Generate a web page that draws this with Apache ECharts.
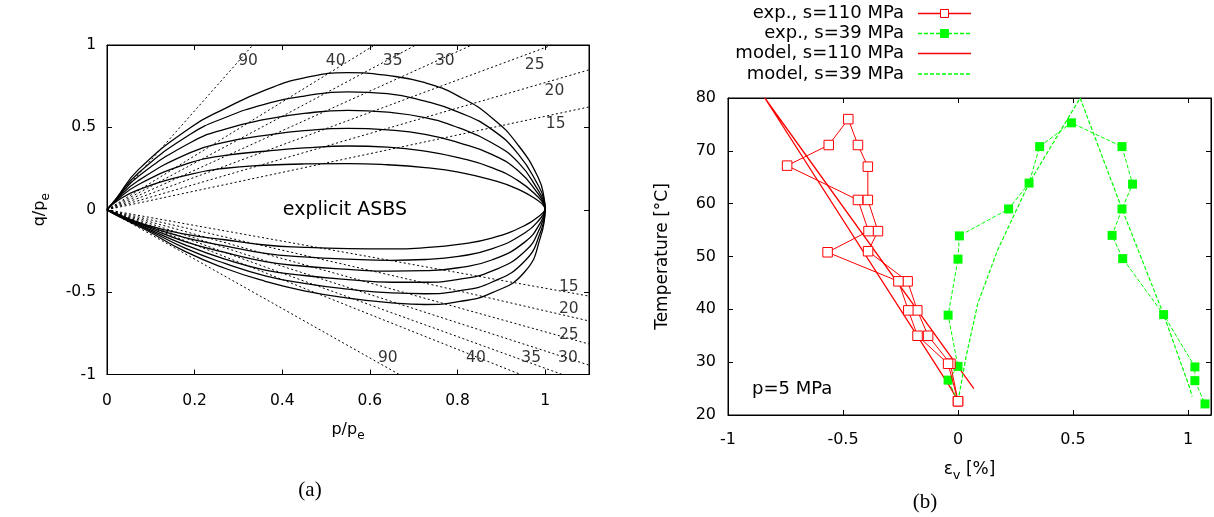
<!DOCTYPE html>
<html><head><meta charset="utf-8">
<script src="https://cdn.jsdelivr.net/npm/echarts@6/dist/echarts.min.js"></script>
<style>html,body{margin:0;padding:0;background:#fff}#c{width:1214px;height:517px}</style>
</head><body><div id="c"></div>
<script>
// ================= panel (a) data =================
// upper (compression) ASBS curves
const pUpper = [0, 0.02, 0.071, 0.19, 0.27, 0.361, 0.45, 0.55, 0.64, 0.726, 0.802, 0.878, 0.939, 0.985, 0.997, 1];
const qUpper1 = [0, 0.065, 0.242, 0.498, 0.615, 0.726, 0.800, 0.832, 0.815, 0.771, 0.690, 0.559, 0.390, 0.190, 0.080, 0];
const qUpper2 = [0, 0.063, 0.222, 0.458, 0.560, 0.641, 0.690, 0.716, 0.705, 0.659, 0.593, 0.488, 0.336, 0.144, 0.065, 0];
const qUpper3 = [0, 0.060, 0.202, 0.407, 0.490, 0.548, 0.585, 0.603, 0.592, 0.559, 0.498, 0.407, 0.286, 0.114, 0.050, 0];
const qUpper4 = [0, 0.057, 0.176, 0.347, 0.410, 0.451, 0.480, 0.494, 0.485, 0.458, 0.407, 0.336, 0.235, 0.094, 0.040, 0];
const qUpper5 = [0, 0.053, 0.152, 0.286, 0.330, 0.355, 0.375, 0.387, 0.380, 0.356, 0.316, 0.256, 0.175, 0.074, 0.030, 0];
const qUpper6 = [0, 0.048, 0.121, 0.215, 0.252, 0.270, 0.278, 0.280, 0.273, 0.256, 0.229, 0.181, 0.124, 0.053, 0.022, 0];
// lower (extension) ASBS curves
const pLower = [0, 0.02, 0.087, 0.178, 0.269, 0.361, 0.45, 0.55, 0.65, 0.726, 0.802, 0.878, 0.954, 0.99, 1];
const qLower1 = [0, -0.022, -0.090, -0.148, -0.182, -0.214, -0.228, -0.236, -0.238, -0.230, -0.210, -0.172, -0.095, -0.030, 0];
const qLower2 = [0, -0.024, -0.095, -0.169, -0.219, -0.265, -0.286, -0.300, -0.307, -0.302, -0.283, -0.238, -0.140, -0.050, 0];
const qLower3 = [0, -0.026, -0.100, -0.193, -0.259, -0.315, -0.343, -0.362, -0.373, -0.370, -0.352, -0.305, -0.195, -0.075, 0];
const qLower4 = [0, -0.028, -0.107, -0.213, -0.300, -0.366, -0.399, -0.424, -0.440, -0.440, -0.422, -0.373, -0.252, -0.100, 0];
const qLower5 = [0, -0.030, -0.113, -0.233, -0.326, -0.401, -0.447, -0.482, -0.505, -0.510, -0.492, -0.440, -0.310, -0.130, 0];
const qLower6 = [0, -0.032, -0.120, -0.253, -0.355, -0.434, -0.492, -0.536, -0.565, -0.575, -0.558, -0.505, -0.375, -0.160, 0];
// critical state lines (dotted) from the origin: end points where they leave the plot
const phiNames = ['90', '40', '35', '30', '25', '20', '15'];
const cslCompEnd = [[0.333, 1], [0.611, 1], [0.705, 1], [0.833, 1], [1.016, 1], [1.1, 0.849], [1.1, 0.624]];
const cslExtEnd = [[0.667, -1], [0.944, -1], [1.039, -1], [1.1, -0.943], [1.1, -0.815], [1.1, -0.675], [1.1, -0.524]];
// label anchors of the friction angles (data coordinates)
const phiLabelUpper = [[0.322, 0.905], [0.522, 0.905], [0.652, 0.905], [0.771, 0.905], [0.976, 0.88], [1.021, 0.72], [1.024, 0.52]];
const phiLabelLower = [[0.641, -0.9], [0.842, -0.9], [0.968, -0.9], [1.052, -0.9], [1.054, -0.76], [1.054, -0.604], [1.054, -0.468]];

// ================= panel (b) data =================
const exp110Eps = [0, -0.033, -0.130, -0.177, -0.219, -0.391, -0.348, -0.392, -0.392, -0.435, -0.477, -0.562, -0.743, -0.435, -0.389, -0.567, -0.259, -0.216, -0.176, -0.043, 0];
const exp110T   = [22.6, 29.7, 35.0, 39.8, 45.3, 51.0, 54.8, 60.7, 67.0, 71.1, 76.0, 71.1, 67.2, 60.7, 54.8, 50.8, 45.3, 39.8, 35.0, 29.7, 22.6];
const exp39Eps = [0, -0.043, 0, -0.043, 0, 0.006, 0.220, 0.309, 0.355, 0.493, 0.713, 0.759, 0.713, 0.670, 0.716, 0.894, 1.030, 1.030, 1.074];
const exp39T   = [22.6, 26.6, 29.2, 38.9, 49.5, 53.9, 59.0, 63.9, 70.8, 75.3, 70.8, 63.7, 59.0, 54.0, 49.6, 39.0, 29.1, 26.5, 22.1];
const model110Eps = [0, -0.030, -0.840, 0.069];
const model110T   = [22.6, 25.0, 80.0, 25.0];
const model39Eps = [0, 0.035, 0.086, 0.172, 0.309, 0.531, 0.713, 0.894, 1.006, 1.018];
const model39T   = [22.6, 31.0, 41.1, 51.2, 63.9, 80.0, 59.0, 39.0, 25.3, 23.5];
const legendNames = ['exp., s=110 MPa', 'exp., s=39 MPa', 'model, s=110 MPa', 'model, s=39 MPa'];

// ================= chart =================
const FONT = 'DejaVu Sans';
const RED = '#ff0000', GREEN = '#00ff00';
const pts = (xs, ys) => xs.map((x, i) => [x, ys[i]]);
const chart = echarts.init(document.getElementById('c'), null, {renderer: 'canvas'});

const series = [];
[qUpper1, qUpper2, qUpper3, qUpper4, qUpper5, qUpper6, qLower1, qLower2, qLower3, qLower4, qLower5, qLower6]
  .forEach((q, k) => series.push({
    type: 'line', xAxisIndex: 0, yAxisIndex: 0, data: pts(k < 6 ? pUpper : pLower, q), smooth: 0.5,
    symbol: 'none', lineStyle: {color: '#000', width: 1.3}, silent: true, z: 3
  }));
cslCompEnd.concat(cslExtEnd).forEach(e => series.push({
  type: 'line', xAxisIndex: 0, yAxisIndex: 0, data: [[0, 0], e], symbol: 'none',
  lineStyle: {color: '#000', width: 1, type: [2, 2.5]}, silent: true, z: 2
}));
series.push({
  type: 'scatter', xAxisIndex: 0, yAxisIndex: 0, symbolSize: 0, silent: true, z: 5,
  data: phiLabelUpper.map((p, i) => ({name: phiNames[i], value: p}))
    .concat(phiLabelLower.map((p, i) => ({name: phiNames[i], value: p}))),
  label: {show: true, position: 'inside', formatter: '{b}', color: '#000', fontFamily: FONT, fontSize: 15.5}
});
// panel (b)
series.push({
  name: legendNames[2], type: 'line', xAxisIndex: 2, yAxisIndex: 2, data: pts(model110Eps, model110T),
  symbol: 'none', lineStyle: {color: RED, width: 1.3}, silent: true, z: 3
});
series.push({
  name: legendNames[3], type: 'line', xAxisIndex: 2, yAxisIndex: 2, data: pts(model39Eps, model39T),
  symbol: 'none', lineStyle: {color: GREEN, width: 1.2, type: [4, 2]}, silent: true, z: 3
});
series.push({
  name: legendNames[1], type: 'line', xAxisIndex: 2, yAxisIndex: 2, data: pts(exp39Eps, exp39T),
  symbol: 'rect', symbolSize: 9, showAllSymbol: true, itemStyle: {color: GREEN},
  lineStyle: {color: GREEN, width: 1, type: [4, 2]}, silent: true, z: 4
});
series.push({
  name: legendNames[0], type: 'line', xAxisIndex: 2, yAxisIndex: 2, data: pts(exp110Eps, exp110T),
  symbol: 'rect', symbolSize: 9.5, showAllSymbol: true, itemStyle: {color: '#fff', borderColor: RED, borderWidth: 1},
  lineStyle: {color: RED, width: 1}, silent: true, z: 5
});

const tick = {show: true, inside: true, length: 5, lineStyle: {color: '#000', width: 1}};
const line = {show: true, onZero: false, lineStyle: {color: '#000', width: 1}};
const lab = (size, margin, hideAbove) => ({
  color: '#000', fontFamily: FONT, fontSize: size, margin: margin,
  formatter: v => (hideAbove !== undefined && v > hideAbove) ? '' : String(+(+v).toFixed(2))
});
const sub = (size) => ({
  color: '#000', fontFamily: FONT, fontSize: size,
  rich: {
    n: {fontFamily: FONT, fontSize: size, color: '#000', lineHeight: size + 8},
    s: {fontFamily: FONT, fontSize: size - 4, color: '#000', verticalAlign: 'bottom', lineHeight: size - 3}
  }
});

const legendGraphics = [];
const legendRows = [13.5, 33.5, 53.5, 74];
const legendStyles = [
  {color: RED, dash: [], mark: 'empty'},
  {color: GREEN, dash: [4, 2], mark: 'full'},
  {color: RED, dash: [], mark: null},
  {color: GREEN, dash: [4, 2], mark: null}
];
legendNames.forEach((n, i) => {
  const y = legendRows[i], s = legendStyles[i];
  legendGraphics.push({type: 'text', x: 904, y: y, style: {text: n, fill: '#000',
    font: '18px "DejaVu Sans"', textAlign: 'right', textVerticalAlign: 'middle'}});
  legendGraphics.push({type: 'line', shape: {x1: 918, y1: y, x2: 971, y2: y},
    style: {stroke: s.color, lineWidth: 1.4, lineDash: s.dash}});
  if (s.mark) legendGraphics.push({type: 'rect', shape: {x: 940.5, y: y - 4, width: 8, height: 8},
    style: {fill: s.mark === 'full' ? s.color : '#fff', stroke: s.color, lineWidth: 1}});
});

chart.setOption({
  animation: false,
  backgroundColor: '#fff',
  grid: [
    {left: 107, top: 45, width: 482, height: 329.5, show: true, borderColor: '#000', borderWidth: 1},
    {left: 728, top: 98, width: 487, height: 317, show: true, borderColor: '#000', borderWidth: 1}
  ],
  xAxis: [
    {gridIndex: 0, type: 'value', min: 0, max: 1.1, interval: 0.2, position: 'bottom',
      axisLine: line, axisTick: tick, splitLine: {show: false}, axisLabel: lab(15.5, 18, 1.05),
      name: '{n|p/p}{s|e}', nameLocation: 'middle', nameGap: 43, nameTextStyle: sub(16)},
    {gridIndex: 0, type: 'value', min: 0, max: 1.1, interval: 0.2, position: 'top',
      axisLine: line, axisTick: tick, splitLine: {show: false}, axisLabel: {show: false}},
    {gridIndex: 1, type: 'value', min: -1, max: 1.1, interval: 0.5, position: 'bottom',
      axisLine: line, axisTick: tick, splitLine: {show: false}, axisLabel: lab(16, 17, 1.05),
      name: '{n|ε}{s|v}{n| [%]}', nameLocation: 'middle', nameGap: 42, nameTextStyle: sub(17)},
    {gridIndex: 1, type: 'value', min: -1, max: 1.1, interval: 0.5, position: 'top',
      axisLine: line, axisTick: tick, splitLine: {show: false}, axisLabel: {show: false}}
  ],
  yAxis: [
    {gridIndex: 0, type: 'value', min: -1, max: 1, interval: 0.5, position: 'left',
      axisLine: line, axisTick: tick, splitLine: {show: false}, axisLabel: lab(15.5, 11),
      name: '{n|q/p}{s|e}', nameLocation: 'middle', nameRotate: 90, nameGap: 55, nameTextStyle: sub(16)},
    {gridIndex: 0, type: 'value', min: -1, max: 1, interval: 0.5, position: 'right',
      axisLine: line, axisTick: tick, splitLine: {show: false}, axisLabel: {show: false}},
    {gridIndex: 1, type: 'value', min: 20, max: 80, interval: 10, position: 'left',
      axisLine: line, axisTick: tick, splitLine: {show: false}, axisLabel: lab(16, 12),
      name: 'Temperature [°C]', nameLocation: 'middle', nameRotate: 90, nameGap: 57,
      nameTextStyle: {color: '#000', fontFamily: FONT, fontSize: 17}},
    {gridIndex: 1, type: 'value', min: 20, max: 80, interval: 10, position: 'right',
      axisLine: line, axisTick: tick, splitLine: {show: false}, axisLabel: {show: false}}
  ],
  graphic: [
    {type: 'text', x: 345, y: 210, style: {text: 'explicit ASBS', fill: '#000', font: '19px "DejaVu Sans"',
      textAlign: 'center', textVerticalAlign: 'middle'}},
    {type: 'text', x: 752, y: 389, style: {text: 'p=5 MPa', fill: '#000', font: '18px "DejaVu Sans"',
      textAlign: 'left', textVerticalAlign: 'middle'}},
    {type: 'text', x: 310, y: 490, style: {text: '(a)', fill: '#000', font: '21px "Liberation Serif"',
      textAlign: 'center', textVerticalAlign: 'middle'}},
    {type: 'text', x: 925, y: 502, style: {text: '(b)', fill: '#000', font: '21px "Liberation Serif"',
      textAlign: 'center', textVerticalAlign: 'middle'}}
  ].concat(legendGraphics),
  series: series
});
</script></body></html>
